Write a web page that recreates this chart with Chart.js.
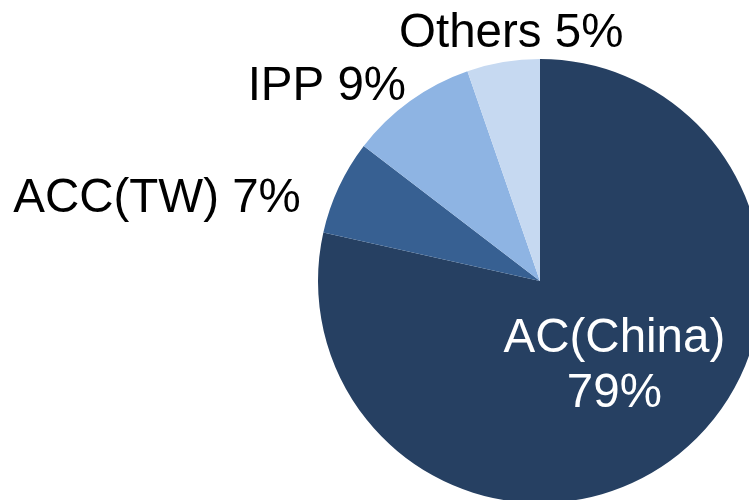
<!DOCTYPE html>
<html>
<head>
<meta charset="utf-8">
<script src="https://cdn.jsdelivr.net/npm/chart.js@4/dist/chart.umd.min.js"></script>
<style>
html,body{margin:0;padding:0;background:#fff;overflow:hidden;width:749px;height:500px;}
#wrap{position:absolute;left:0;top:0;width:1080px;height:562px;}
</style>
</head>
<body>
<div id="wrap"><canvas id="c" width="1080" height="562"></canvas></div>
<script>
const categories = ['AC(China)', 'ACC(TW)', 'IPP', 'Others'];
const shares = [78.5, 6.9, 9.3, 5.3];
const colors = ['#264062', '#376092', '#8EB4E3', '#C6D9F1'];

const labelPlugin = {
  id: 'sliceLabels',
  afterDatasetsDraw(chart, args, opts) {
    const ctx = chart.ctx;
    const meta = chart.getDatasetMeta(0);
    ctx.save();
    ctx.font = opts.font;
    meta.data.forEach((arc, i) => {
      const p = arc.getProps(['x', 'y', 'startAngle', 'endAngle', 'outerRadius'], true);
      const mid = (p.startAngle + p.endAngle) / 2;
      const pct = Math.round(shares[i]) + '%';
      const o = opts.place[i];
      if (o.inside) {
        const r = p.outerRadius * o.r;
        const x = p.x + Math.cos(mid) * r + o.dx;
        const y = p.y + Math.sin(mid) * r + o.dy;
        ctx.fillStyle = '#FFFFFF';
        ctx.textAlign = 'center';
        ctx.textBaseline = 'alphabetic';
        ctx.fillText(categories[i], x, y - o.lh / 2);
        ctx.fillText(pct, x, y + o.lh / 2);
      } else {
        const x = p.x + Math.cos(mid) * p.outerRadius + o.dx;
        const y = p.y + Math.sin(mid) * p.outerRadius + o.dy;
        ctx.fillStyle = '#000000';
        ctx.textAlign = o.align;
        ctx.textBaseline = 'alphabetic';
        ctx.fillText(categories[i] + ' ' + pct, x, y);
      }
    });
    ctx.restore();
  }
};

new Chart(document.getElementById('c'), {
  type: 'pie',
  data: {
    labels: categories,
    datasets: [{
      data: shares,
      backgroundColor: colors,
      borderWidth: 0
    }]
  },
  options: {
    responsive: false,
    animation: false,
    layout: { padding: { top: 59, bottom: 59, left: 0, right: 0 } },
    plugins: {
      legend: { display: false },
      tooltip: { enabled: false },
      sliceLabels: {
        font: '47.5px "Liberation Sans", Arial, sans-serif',
        place: [
          { inside: true, r: 0.5, dx: 5, dy: 12, lh: 55 },
          { align: 'right', dx: -38, dy: 25 },
          { align: 'right', dx: -4, dy: -1 },
          { align: 'center', dx: 8, dy: -15 }
        ]
      }
    }
  },
  plugins: [labelPlugin]
});
</script>
</body>
</html>
